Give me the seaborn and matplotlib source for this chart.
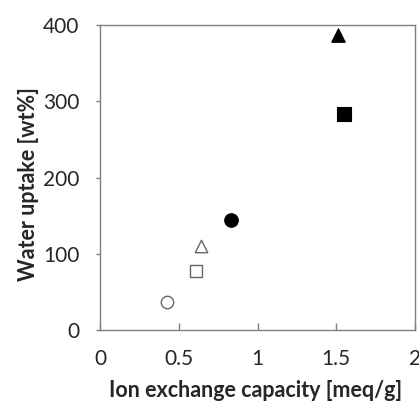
import matplotlib
matplotlib.use("Agg")
import matplotlib.pyplot as plt
import pandas as pd
import seaborn as sns

sns.set_style("white")
plt.rcParams["font.family"] = ["Lato", "DejaVu Sans"]

# data
iec = [0.427, 0.607, 0.639, 0.829, 1.513, 1.547]
uptake = [36.5, 78, 110, 144.5, 387, 283]
markers = ["o", "s", "^", "o", "^", "s"]
filled = [False, False, False, True, True, True]

df = pd.DataFrame({"iec": iec, "uptake": uptake, "marker": markers, "filled": filled})

fig = plt.figure(figsize=(4.19, 4.01), dpi=100)
ax = fig.add_axes([100 / 419, 1 - 330 / 401, 315 / 419, 305 / 401])

for _, row in df.iterrows():
    if row["filled"]:
        fc, ec, s, lw = "black", "black", 95, 0.8
    else:
        fc, ec, s, lw = "white", "#666666", 80, 1.0
    sns.scatterplot(x=[row["iec"]], y=[row["uptake"]], marker=row["marker"],
                    s=s, color=fc, edgecolor=ec, linewidth=lw, ax=ax, zorder=3)

ax.set_xlim(0, 2)
ax.set_ylim(0, 400)
ax.set_xticks([0, 0.5, 1, 1.5, 2])
ax.set_xticklabels(["0", "0.5", "1", "1.5", "2"])
ax.set_yticks([0, 100, 200, 300, 400])

for sp in ax.spines.values():
    sp.set_visible(True)
    sp.set_color("#808080")
    sp.set_linewidth(1.0)

ax.tick_params(axis="x", direction="in", length=5, color="#808080", width=1,
               labelsize=15, pad=14, bottom=True)
ax.tick_params(axis="y", direction="out", length=3, color="#808080", width=1,
               labelsize=15, pad=12, left=True)

ax.set_xlabel("Ion exchange capacity [meq/g]", fontsize=15.5, fontweight="bold")
ax.set_ylabel("Water uptake [wt%]", fontsize=15.5, fontweight="bold")
ax.xaxis.set_label_coords(0.495, -0.165)
ax.yaxis.set_label_coords(-0.195, 0.48)

fig.savefig("out.png", dpi=100)
